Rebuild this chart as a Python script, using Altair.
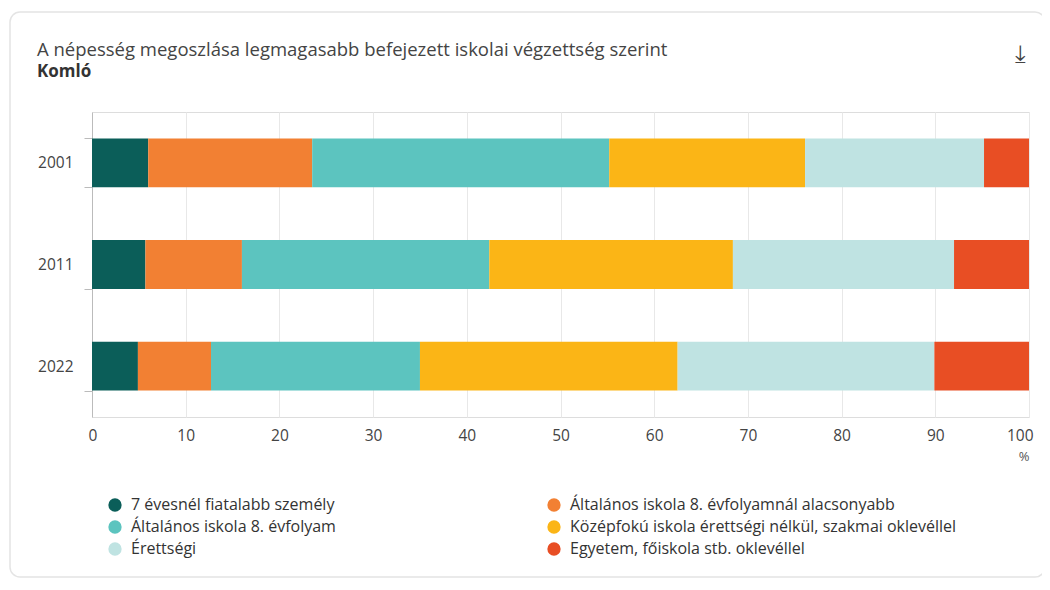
import altair as alt
import pandas as pd

years = ["2001", "2011", "2022"]
categories = [
    "7 évesnél fiatalabb személy",
    "Általános iskola 8. évfolyamnál alacsonyabb",
    "Általános iskola 8. évfolyam",
    "Középfokú iskola érettségi nélkül, szakmai oklevéllel",
    "Érettségi",
    "Egyetem, főiskola stb. oklevéllel",
]
colors = ["#0b5e59", "#f28033", "#5cc4bf", "#fbb516", "#bfe3e2", "#e84e24"]
values = {
    "2001": [6.0, 17.5, 31.7, 20.9, 19.1, 4.8],
    "2011": [5.7, 10.3, 26.4, 26.0, 23.6, 8.0],
    "2022": [4.9, 7.8, 22.3, 27.5, 27.4, 10.1],
}
title_text = "A népesség megoszlása legmagasabb befejezett iskolai végzettség szerint"
subtitle_text = "Komló"

rows = []
for y in years:
    for i, c in enumerate(categories):
        rows.append({"year": y, "cat": c, "val": values[y][i], "idx": i})
df = pd.DataFrame(rows)

FONT = "Open Sans"

bars = alt.Chart(df).mark_bar().encode(
    y=alt.Y("year:N", sort=years, title=None,
            scale=alt.Scale(paddingInner=0.52, paddingOuter=0.26),
            axis=alt.Axis(tickBand="extent", tickSize=8, tickColor="#bbbbbb",
                          domainColor="#bbbbbb", labelPadding=11, labelFontSize=15.5,
                          labelColor="#444444", labelFont=FONT, grid=False)),
    x=alt.X("val:Q", stack="zero", title="%",
            scale=alt.Scale(domain=[0, 100], nice=False),
            axis=alt.Axis(values=list(range(0, 101, 10)), ticks=False, domain=False,
                          grid=True, gridColor="#e8e8e8", labelPadding=11,
                          labelFlush=True, labelFlushOffset=4,
                          labelFontSize=15.5, labelColor="#444444", labelFont=FONT,
                          titleAnchor="end", titleAlign="right", titleFontWeight="normal",
                          titleFontSize=13, titleColor="#555555", titleFont=FONT,
                          titlePadding=7)),
    color=alt.Color("cat:N", sort=categories,
                    scale=alt.Scale(domain=categories, range=colors),
                    legend=alt.Legend(title=None, orient="none", legendX=15, legendY=385,
                                      columns=2, direction="horizontal",
                                      columnPadding=210, rowPadding=6,
                                      symbolType="circle", symbolSize=177,
                                      symbolStrokeWidth=0, labelFontSize=16,
                                      labelColor="#333333", labelFont=FONT,
                                      labelOffset=8, labelLimit=500, padding=0)),
    order=alt.Order("idx:Q", sort="ascending"),
)

card = alt.Chart(pd.DataFrame({"k": [0]})).mark_rect(
    fill=None, stroke="#e4e4e4", strokeWidth=1.5, cornerRadius=10
).encode(
    x=alt.value(-82), x2=alt.value(953), y=alt.value(-100), y2=alt.value(465)
)

title = alt.Chart(pd.DataFrame({"t": [title_text]})).mark_text(
    font=FONT, fontSize=18.5, color="#444444", align="left", baseline="middle"
).encode(text="t:N", x=alt.value(-55), y=alt.value(-62))

subtitle = alt.Chart(pd.DataFrame({"t": [subtitle_text]})).mark_text(
    font=FONT, fontSize=17, fontWeight="bold", color="#333333", align="left",
    baseline="middle"
).encode(text="t:N", x=alt.value(-55), y=alt.value(-40))

icon = alt.Chart(pd.DataFrame({"k": ["\u2913"]})).mark_text(
    font="DejaVu Sans", fontSize=24, color="#444444", align="center", baseline="middle"
).encode(text="k:N", x=alt.value(928), y=alt.value(-57))

chart = alt.layer(card, bars, title, subtitle, icon).properties(
    width=937,
    height=305,
    padding={"left": 84, "top": 104, "right": 13, "bottom": 162},
    autosize=alt.AutoSizeParams(type="none"),
).configure_view(stroke=None).configure(background="white")

chart.save("out.html", embed_options={"renderer": "svg", "actions": False})
